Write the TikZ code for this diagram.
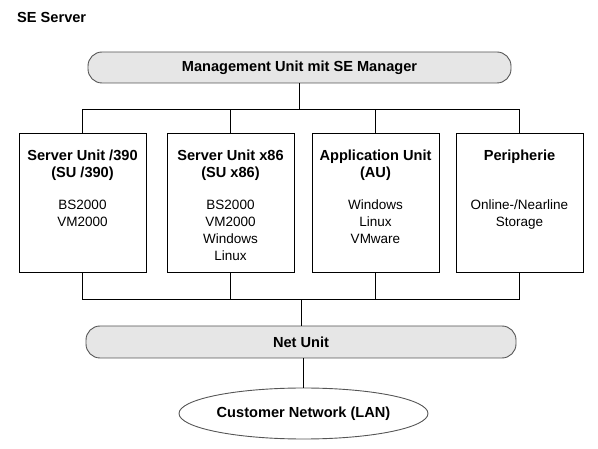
\documentclass[tikz,border=0pt]{standalone}
\usepackage{fontspec}
\setmainfont{Liberation Sans}
\usepackage{tikz}
\usetikzlibrary{positioning, shapes.geometric, calc}
\definecolor{unitgray}{HTML}{E6E6E6}
\definecolor{rimgray}{HTML}{555555}
\newcommand{\headfont}{\fontsize{14.6}{17}\selectfont\bfseries}

\begin{document}
\begin{tikzpicture}[
    x=1pt, y=-1pt,
    font=\fontsize{13.5}{17}\selectfont,
    railnode/.style={rectangle, rounded corners=14pt, draw=rimgray, line width=0.9pt, fill=unitgray, inner sep=0pt, font=\headfont},
    unitbox/.style={rectangle, draw, line width=0.9pt, inner sep=0pt, minimum width=127pt, minimum height=139pt},
    lannode/.style={ellipse, draw=rimgray, line width=0.9pt, inner sep=0pt, minimum width=249pt, minimum height=51pt, font=\headfont},
    wire/.style={draw, line width=0.9pt}
]
\useasboundingbox (0,0) rectangle (598,449);

% Title
\node[anchor=west, inner sep=0pt, font=\headfont] (title) at (17,17) {SE Server};

% Management rail
\node[railnode, minimum width=423pt, minimum height=31pt] (mgmt) at (299.5,67.5) {Management Unit mit SE Manager};

% Units
\node[unitbox] (su390) at (82.5,202.5) {\parbox[c][139pt][t]{127pt}{\centering\vspace*{17pt}%
    {\headfont Server Unit /390}\\ {\headfont (SU /390)}\\[15pt] BS2000\\ VM2000}};
\node[unitbox] (sux86) at (230.5,202.5) {\parbox[c][139pt][t]{127pt}{\centering\vspace*{17pt}%
    {\headfont Server Unit x86}\\ {\headfont (SU x86)}\\[15pt] BS2000\\ VM2000\\ Windows\\ Linux}};
\node[unitbox] (au) at (375.5,202.5) {\parbox[c][139pt][t]{127pt}{\centering\vspace*{17pt}%
    {\headfont Application Unit}\\ {\headfont (AU)}\\[15pt] Windows\\ Linux\\ VMware}};
\node[unitbox] (peri) at (519.5,202.5) {\parbox[c][139pt][t]{127pt}{\centering\vspace*{17pt}%
    {\headfont Peripherie}\\[32pt] Online-/Nearline\\ Storage}};

% Net rail and customer network
\node[railnode, minimum width=430pt, minimum height=32pt] (net) at (301,342) {Net Unit};
\node[lannode] (lan) at (303.5,413.5) {Customer Network (LAN)};

% Buses
\coordinate (topbus) at (0,109);
\coordinate (botbus) at (0,299);

\draw[wire] (mgmt.south) -- (mgmt.south |- topbus);
\draw[wire] (su390.north) |- (topbus -| peri.north) -- (peri.north);
\draw[wire] (sux86.north) -- (sux86.north |- topbus);
\draw[wire] (au.north) -- (au.north |- topbus);

\draw[wire] (su390.south) |- (botbus -| peri.south) -- (peri.south);
\draw[wire] (sux86.south) -- (sux86.south |- botbus);
\draw[wire] (au.south) -- (au.south |- botbus);
\draw[wire] (net.north) -- (net.north |- botbus);

\draw[wire] (lan.north |- net.south) -- (lan.north);

\end{tikzpicture}
\end{document}
